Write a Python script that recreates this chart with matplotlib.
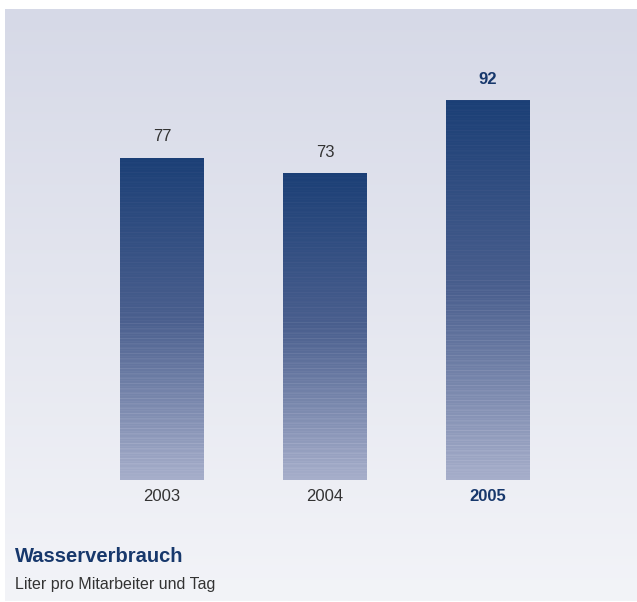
import numpy as np
import matplotlib
matplotlib.use("Agg")
from matplotlib import pyplot as plt
from matplotlib.colors import LinearSegmentedColormap

plt.rcParams["font.family"] = ["Liberation Sans", "DejaVu Sans"]

years = ["2003", "2004", "2005"]
values = [77, 73, 92]
highlight = "2005"
title = "Wasserverbrauch"
subtitle = "Liter pro Mitarbeiter und Tag"

NAVY = "#17386c"
TEXT = "#333333"
W, H, DPI = 637, 602, 100

fig = plt.figure(figsize=(W / DPI, H / DPI), dpi=DPI)
fig.patch.set_facecolor("white")

# light gradient panel behind everything
bg = fig.add_axes([5 / W, 1 / H, (W - 5) / W, (H - 10) / H])
bg.axis("off")
bg_cmap = LinearSegmentedColormap.from_list("bg", ["#d6d9e7", "#f3f4f8"])
bg.imshow(np.linspace(0, 1, 256).reshape(-1, 1), aspect="auto", cmap=bg_cmap)

# main axes laid out in pixels
ax = fig.add_axes([0, 122 / H, 1, (480 - 9) / H])
ax.set_facecolor("none")
for s in ax.spines.values():
    s.set_visible(False)

base = -7.2  # value axis does not start at zero in the original
px_per_unit = 3.83
x = np.arange(len(years))
width = 84 / 163

bar_cmap = LinearSegmentedColormap.from_list("bar", ["#1b3f76", "#4a5f8e", "#a6aeca"])
bars = ax.bar(x, np.array(values) - base, bottom=base, width=width,
              facecolor="none", edgecolor="none")

for rect, v in zip(bars, values):
    n = int(round((v - base) * px_per_unit))
    rows = np.arange(n)
    t = rows / (n - 1)
    # faint horizontal streaks like in the printed chart
    t = np.clip(t + 0.05 * (rows % 5 == 0) + 0.025 * (rows % 3 == 0), 0, 1)
    img = bar_cmap(t).reshape(n, 1, 4)
    x0 = rect.get_x()
    im = ax.imshow(img, aspect="auto", interpolation="nearest",
                   extent=(x0, x0 + rect.get_width(), base, v))
    im.set_clip_path(rect)

for xi, yr, v in zip(x, years, values):
    hl = yr == highlight
    ax.annotate(str(v), (xi, v), xytext=(0, 15), textcoords="offset points",
                ha="center", va="center", fontsize=12,
                color=NAVY if hl else TEXT,
                fontweight="bold" if hl else "normal")

ax.set_xlim(-162 / 163, (W - 162) / 163)
ax.set_ylim(base, base + 471 / px_per_unit)
ax.set_yticks([])
ax.set_xticks(x)
ax.set_xticklabels(years, fontsize=12, color=TEXT)
ax.tick_params(axis="x", length=0, pad=6.5)
for lbl, yr in zip(ax.get_xticklabels(), years):
    if yr == highlight:
        lbl.set_color(NAVY)
        lbl.set_fontweight("bold")

fig.text(15 / W, 1 - 557 / H, title, ha="left", va="center",
         fontsize=14.5, fontweight="bold", color=NAVY)
fig.text(15 / W, 1 - 584 / H, subtitle, ha="left", va="center",
         fontsize=11.5, color=TEXT)

fig.savefig("out.png", dpi=DPI)
